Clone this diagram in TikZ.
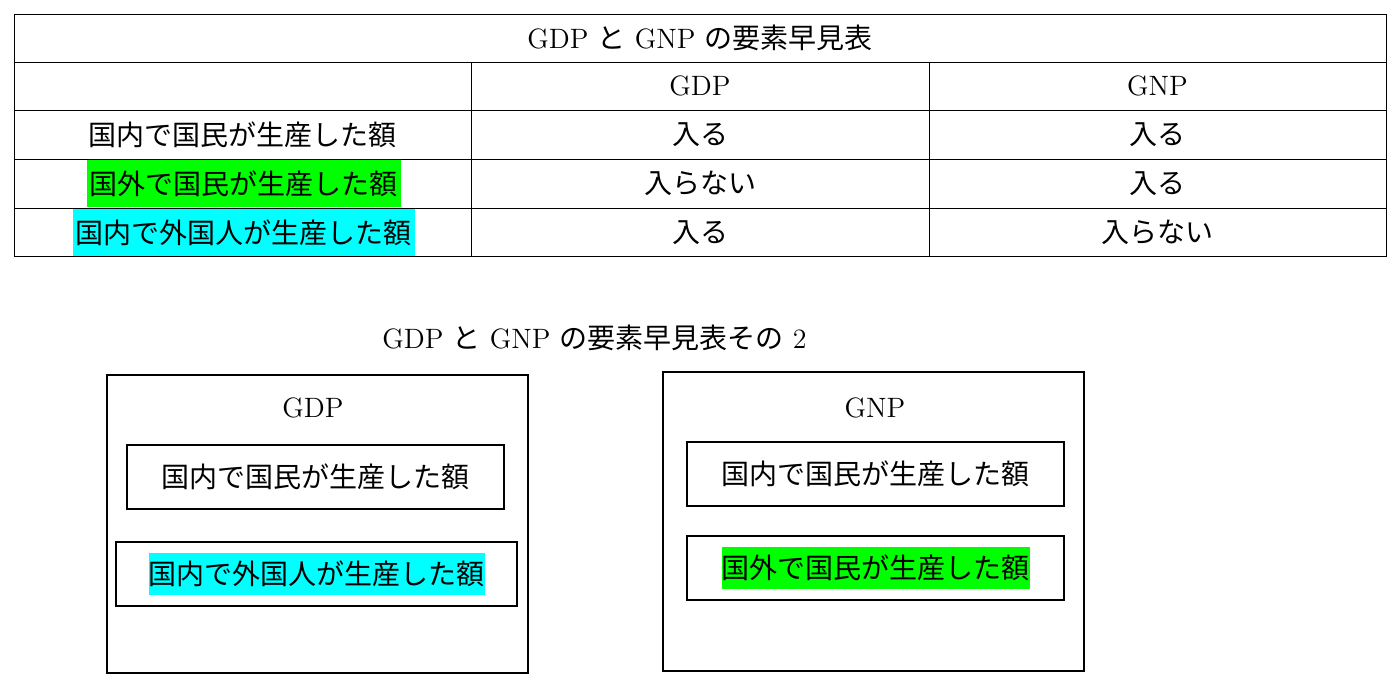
\documentclass[tikz,border=0pt]{standalone}
\usepackage{fontspec}
\newfontfamily\jp{Noto Sans CJK JP}
\definecolor{hlgreen}{RGB}{0,255,0}
\definecolor{hlcyan}{RGB}{0,255,255}

\begin{document}
\begin{tikzpicture}[x=0.5pt, y=-0.5pt,
  every node/.style={font=\fontsize{14pt}{17pt}\selectfont, inner sep=0pt, outer sep=0pt},
  cellhl/.style={minimum height=23.5pt, inner xsep=1.5pt},
  box/.style={draw, line width=0.8pt, minimum height=32pt},
  boxhl/.style={minimum height=21pt}]
\useasboundingbox (0,0) rectangle (1394,681);

% table
\node (title) at (700,38) {GDP {\jp と} GNP {\jp の要素早見表}};
\node (hGDP) at (700,86) {GDP};
\node (hGNP) at (1157.5,86) {GNP};

\node (r1) at (242.5,134.5) {\jp 国内で国民が生産した額};
\node (r1GDP) at (700,134.5) {\jp 入る};
\node (r1GNP) at (1157.5,134.5) {\jp 入る};

\node[fill=hlgreen, cellhl] (r2) at (243.5,183.5) {\jp 国外で国民が生産した額};
\node (r2GDP) at (700,183.5) {\jp 入らない};
\node (r2GNP) at (1157.5,183.5) {\jp 入る};

\node[fill=hlcyan, cellhl] (r3) at (243.5,232.5) {\jp 国内で外国人が生産した額};
\node (r3GDP) at (700,232.5) {\jp 入る};
\node (r3GNP) at (1157.5,232.5) {\jp 入らない};

\draw[line width=0.5pt] (14,14) rectangle (1386,256);
\draw[line width=0.5pt] (14,62) -- (1386,62);
\draw[line width=0.5pt] (14,110) -- (1386,110);
\draw[line width=0.5pt] (14,159) -- (1386,159);
\draw[line width=0.5pt] (14,208) -- (1386,208);
\draw[line width=0.5pt] (471,62) -- (471,256);
\draw[line width=0.5pt] (929,62) -- (929,256);

% boxes
\node (title2) at (594.5,338) {GDP {\jp と} GNP {\jp の要素早見表その} 2};

\node[draw, line width=0.8pt, minimum width=210.5pt, minimum height=149pt] (gdpbox) at (317.5,524) {};
\node (gdp) at (313,408) {GDP};
\node[box, minimum width=188.5pt] (gdpA) at (315.5,477) {\jp 国内で国民が生産した額};
\node[box, minimum width=200.5pt] (gdpB) at (316.5,574) {};
\node[fill=hlcyan, boxhl] (gdpBt) at (gdpB) {\jp 国内で外国人が生産した額};

\node[draw, line width=0.8pt, minimum width=210.5pt, minimum height=149.5pt] (gnpbox) at (873.5,521.5) {};
\node (gnp) at (875,408) {GNP};
\node[box, minimum width=188.5pt] (gnpA) at (875.5,474) {\jp 国内で国民が生産した額};
\node[box, minimum width=188.5pt] (gnpB) at (875.5,568) {};
\node[fill=hlgreen, boxhl] (gnpBt) at (gnpB) {\jp 国外で国民が生産した額};
\end{tikzpicture}
\end{document}
